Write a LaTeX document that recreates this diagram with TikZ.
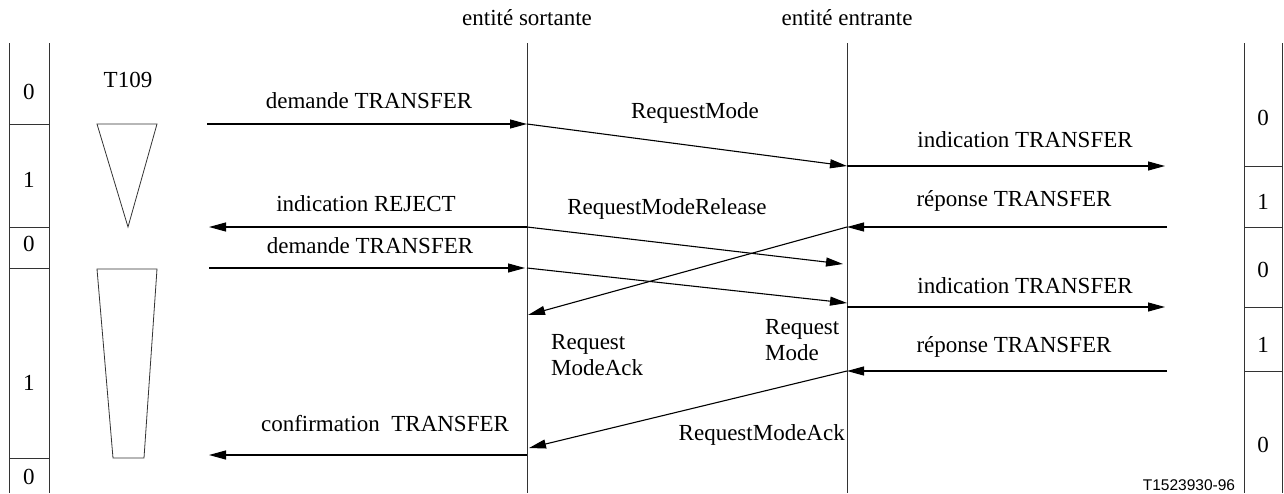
\documentclass[tikz,border=0pt]{standalone}
\usepackage{fontspec}
\setmainfont{Liberation Serif}
\newfontfamily\labelsans{Liberation Sans}
\usetikzlibrary{arrows.meta}
\begin{document}
\begin{tikzpicture}[x=1pt,y=-1pt,
  msg/.style={line width=1.1pt,-{Triangle[length=17pt,width=9pt]}},
  life/.style={line width=0.9pt,draw=black!80},
  tbox/.style={line width=0.9pt,draw=black!80},
  lbl/.style={font=\fontsize{23}{26}\selectfont,inner sep=0pt},
  ml/.style={lbl,align=left,anchor=west}]
\useasboundingbox (0,0) rectangle (1284,493);

% lifelines
\coordinate (sT) at (527,43); \coordinate (sB) at (527,493);
\coordinate (eT) at (847,43); \coordinate (eB) at (847,493);
\draw[life] (sT) -- (sB);
\draw[life] (eT) -- (eB);
\node[lbl] (hs) at (527,18) {entité sortante};
\node[lbl] (he) at (847,18) {entité entrante};

% left state column
\draw[tbox] (9,43) -- (9,493) (49,43) -- (49,493);
\draw[tbox] (9,124) -- (49,124) (9,227) -- (49,227) (9,268) -- (49,268) (9,458) -- (49,458);
\node[lbl] (L1) at (29,92) {0};
\node[lbl] (L2) at (29,180) {1};
\node[lbl] (L3) at (29,244) {0};
\node[lbl] (L4) at (29,383) {1};
\node[lbl] (L5) at (29,477) {0};

% right state column
\draw[tbox] (1244,43) -- (1244,493) (1282.5,43) -- (1282.5,493);
\draw[tbox] (1244,166) -- (1283,166) (1244,227) -- (1283,227) (1244,307) -- (1283,307) (1244,371) -- (1283,371);
\node[lbl] (R1) at (1263,118) {0};
\node[lbl] (R2) at (1263,202) {1};
\node[lbl] (R3) at (1263,270) {0};
\node[lbl] (R4) at (1263,345) {1};
\node[lbl] (R5) at (1263,445) {0};

% timer T109
\node[lbl] (t109) at (128,80) {T109};
\draw[tbox,line width=0.8pt] (97,124) -- (157,124) -- (128,227) -- cycle;
\draw[tbox,line width=0.8pt] (97,269) -- (157,269) -- (144,458) -- (113,458) -- cycle;

% arrow end points
\coordinate (l1) at (207,124); \coordinate (s1) at (527,124);
\coordinate (e1) at (847,166); \coordinate (r1) at (1165,166);
\coordinate (r2) at (1167,227); \coordinate (e2) at (847,227);
\coordinate (s2) at (527,227); \coordinate (l2) at (209,227);
\coordinate (e2b) at (843,264); \coordinate (s3) at (528,315);
\coordinate (l4) at (209,268); \coordinate (s4) at (525,268);
\coordinate (s4b) at (527,268); \coordinate (e4) at (847,303);
\coordinate (e5) at (847,307); \coordinate (r5) at (1165,307);
\coordinate (r6) at (1167,371); \coordinate (e6) at (847,371);
\coordinate (s6) at (529,448);
\coordinate (s7) at (527,455); \coordinate (l7) at (209,455);

% messages
\draw[msg] (l1) -- (s1);
\draw[msg] (s1) -- (e1);
\draw[msg] (e1) -- (r1);
\draw[msg] (r2) -- (e2);
\draw[msg] (s2) -- (l2);
\draw[msg] (s2) -- (e2b);
\draw[msg] (e2) -- (s3);
\draw[msg] (l4) -- (s4);
\draw[msg] (s4b) -- (e4);
\draw[msg] (e5) -- (r5);
\draw[msg] (r6) -- (e6);
\draw[msg] (e6) -- (s6);
\draw[msg] (s7) -- (l7);

% labels
\node[lbl] (m1) at (369,101) {demande TRANSFER};
\node[lbl] (m2) at (695,113) {RequestMode};
\node[lbl] (m3) at (1025,140) {indication TRANSFER};
\node[lbl] (m4) at (1014,201) {réponse TRANSFER};
\node[lbl] (m5) at (366,204) {indication REJECT};
\node[lbl] (m6) at (667,209) {RequestModeRelease};
\node[lbl] (m8) at (370,246) {demande TRANSFER};
\node[lbl] (m10) at (1025,286) {indication TRANSFER};
\node[lbl] (m11) at (1014,347) {réponse TRANSFER};
\node[ml] (m7) at (551,355) {Request\\ModeAck};
\node[ml] (m9) at (765,340) {Request\\Mode};
\node[lbl,anchor=east] (m12) at (845,435) {RequestModeAck};
\node[lbl] (m13) at (385,424) {confirmation\ \ TRANSFER};
\node[inner sep=0pt,font=\labelsans\fontsize{15.5}{17}\selectfont] (ref) at (1189,485) {T1523930-96};
\end{tikzpicture}
\end{document}
